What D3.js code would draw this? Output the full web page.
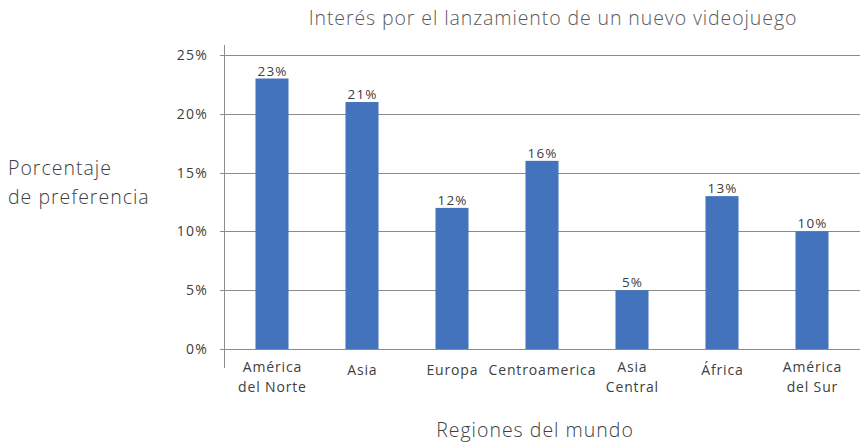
<!DOCTYPE html>
<html>
<head>
<meta charset="utf-8">
<script src="https://cdn.jsdelivr.net/npm/d3@7"></script>
<style>
  html, body { margin: 0; padding: 0; background: #fff; }
  svg { display: block; font-family: "Open Sans", Lato, sans-serif; }
</style>
</head>
<body>
<svg id="chart" width="862" height="444"></svg>
<script>
// Regions and their interest share (%)
const categories = [
  ["América", "del Norte"],
  ["Asia"],
  ["Europa"],
  ["Centroamerica"],
  ["Asia", "Central"],
  ["África"],
  ["América", "del Sur"]
];
const values = [23, 21, 12, 16, 5, 13, 10];
const yTicks = [0, 5, 10, 15, 20, 25];

const title = "Interés por el lanzamiento de un nuevo videojuego";
const yTitle = ["Porcentaje", "de preferencia"];
const xTitle = "Regiones del mundo";

const svg = d3.select("#chart");
const plotLeft = 224, plotTop = 55, plotBottom = 349;

const keys = categories.map(c => c.join(" "));
const x = d3.scaleBand().domain(keys).range([227, 857]).paddingInner(0.633).paddingOuter(0.3165);
const y = d3.scaleLinear().domain([0, 25]).range([plotBottom, plotTop]);

const textCol = "#404040";

// gridlines
svg.append("g").selectAll("line").data(yTicks).join("line")
  .attr("x1", plotLeft - 4).attr("x2", 860)
  .attr("y1", d => Math.round(y(d)) + 0.5).attr("y2", d => Math.round(y(d)) + 0.5)
  .attr("stroke", "#8c8c8c").attr("stroke-width", 1);

// y axis line
svg.append("line")
  .attr("x1", plotLeft + 0.5).attr("x2", plotLeft + 0.5)
  .attr("y1", plotTop - 10).attr("y2", 368)
  .attr("stroke", "#8c8c8c").attr("stroke-width", 1);

// tick labels
svg.append("g").selectAll("text").data(yTicks).join("text")
  .attr("x", 208).attr("y", d => y(d))
  .attr("dy", "0.35em")
  .attr("text-anchor", "end")
  .attr("font-size", 14).attr("letter-spacing", 1.2).attr("fill", textCol)
  .text(d => d + "%");

// bars
svg.append("g").selectAll("rect").data(values).join("rect")
  .attr("x", (d, i) => x(keys[i]))
  .attr("width", x.bandwidth())
  .attr("y", d => y(d))
  .attr("height", d => y(0) - y(d))
  .attr("fill", "#4273bc");

// value labels
svg.append("g").selectAll("text").data(values).join("text")
  .attr("x", (d, i) => x(keys[i]) + x.bandwidth() / 2 + 0.6)
  .attr("y", d => y(d) - 3)
  .attr("text-anchor", "middle")
  .attr("font-size", 13.5).attr("letter-spacing", 1.2).attr("fill", textCol)
  .text(d => d + "%");

// category labels
const catG = svg.append("g").selectAll("text").data(categories).join("text")
  .attr("x", (d, i) => x(keys[i]) + x.bandwidth() / 2 + 0.4)
  .attr("y", d => d.length > 1 ? 367 : 370)
  .attr("text-anchor", "middle")
  .attr("font-size", 14).attr("letter-spacing", 0.85).attr("fill", textCol);
catG.each(function(d) {
  const t = d3.select(this);
  d.forEach((line, j) => {
    t.append("tspan")
      .attr("x", t.attr("x"))
      .attr("dy", j === 0 ? "0.35em" : "1.45em")
      .text(line);
  });
});

// chart title
svg.append("text")
  .attr("x", 553).attr("y", 25)
  .attr("text-anchor", "middle")
  .attr("font-size", 19.5).attr("font-weight", 300).attr("letter-spacing", 0.9).attr("fill", "#595959")
  .text(title);

// y axis title
const yt = svg.append("text")
  .attr("x", 8).attr("y", 175)
  .attr("font-size", 19.5).attr("font-weight", 300).attr("letter-spacing", 1).attr("fill", textCol);
yTitle.forEach((line, j) => {
  yt.append("tspan").attr("x", 8).attr("dy", j === 0 ? 0 : 29).text(line);
});

// x axis title
svg.append("text")
  .attr("x", 535).attr("y", 437)
  .attr("text-anchor", "middle")
  .attr("font-size", 19.5).attr("font-weight", 300).attr("letter-spacing", 1).attr("fill", textCol)
  .text(xTitle);
</script>
</body>
</html>
